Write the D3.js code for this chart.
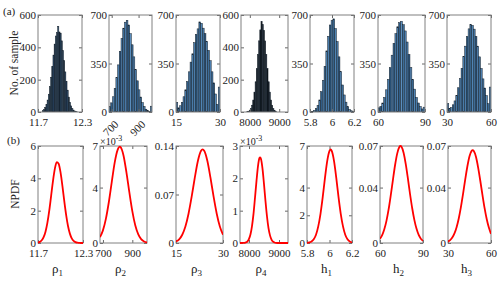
<!DOCTYPE html>
<html lang="en">
<head>
<meta charset="UTF-8" />
<title>Sample histograms and NPDF</title>
<script src="https://cdn.jsdelivr.net/npm/d3@7"></script>
<style>
  body { margin: 0; background: #fff; }
  svg text { font-family: "Liberation Serif", "Times New Roman", serif; }
</style>
</head>
<body>
<svg id="chart" width="500" height="283"></svg>
<script>
// parameter names (symbol + subscript)
var symbols = ["ρ", "ρ", "ρ", "ρ", "h", "h", "h"];
var subs = ["1", "2", "3", "4", "1", "2", "3"];

var xDomains = [[11.7, 12.3], [680, 1000], [15, 30], [7700, 9300], [5.8, 6.2], [60, 90], [30, 60]];
var xTicks = [[11.7, 12.3], [700, 900], [15, 30], [8000, 9000], [5.8, 6, 6.2], [60, 90], [30, 60]];

// histogram (a)
var countMax = [600, 700, 700, 600, 700, 700, 700];
var countTicks = [[0, 200, 400, 600], [0, 350, 700], [0, 350, 700], [0, 200, 400, 600], [0, 350, 700], [0, 350, 700], [0, 350, 700]];
var binStart = [11.76, 680, 15, 7900, 5.8, 60, 30];
var binWidth = [0.016, 12.8, 0.6, 40, 0.016, 1.2, 1.2];

var rho1Counts = [8, 15, 28, 46, 74, 110, 158, 215, 282, 352, 420, 470, 492, 530, 495, 488, 440, 380, 318, 248, 190, 135, 92, 60, 38, 22, 12, 6, 3, 1];
var rho2Counts = [38, 66, 110, 170, 248, 340, 438, 530, 605, 648, 662, 628, 565, 485, 398, 305, 225, 160, 108, 68, 40, 20, 10, 5, 42];
var rho3Counts = [70, 30, 45, 70, 110, 160, 220, 290, 360, 420, 500, 560, 600, 650, 640, 605, 565, 510, 445, 370, 290, 210, 130, 55, 180];
var rho4Counts = [2, 5, 11, 22, 42, 74, 123, 187, 268, 356, 440, 508, 560, 540, 505, 440, 356, 268, 187, 123, 74, 42, 22, 11, 5];
var h1Counts = [2, 5, 12, 25, 48, 87, 147, 228, 330, 441, 546, 628, 660, 672, 602, 508, 398, 291, 195, 123, 71, 38, 19, 9, 4];
var h2Counts = [30, 40, 65, 105, 160, 235, 320, 410, 495, 565, 615, 645, 655, 630, 585, 505, 415, 320, 235, 165, 105, 65, 40, 22, 35];
var h3Counts = [60, 25, 32, 52, 80, 120, 175, 240, 315, 400, 475, 545, 600, 630, 625, 598, 545, 475, 398, 314, 239, 173, 118, 60, 180];

// NPDF (b)
var pdfMax = [6, 7, 0.14, 3, 7, 0.07, 0.07];
var pdfTicks = [[0, 2, 4, 6], [0, 4, 7], [0, 0.07, 0.14], [0, 1, 2, 3], [0, 2, 4, 7], [0, 0.04, 0.07], [0, 0.04, 0.07]];
var pdfExponent = ["", "-3", "", "-3", "", "", ""];

var rho1Pdf = [[11.70, 0.03], [11.725, 0.07], [11.75, 0.17], [11.775, 0.36], [11.80, 0.70], [11.825, 1.24], [11.85, 2.0], [11.875, 2.92], [11.90, 3.85], [11.925, 4.6], [11.95, 5.0], [11.975, 4.9], [12.0, 4.38], [12.025, 3.55], [12.05, 2.6], [12.075, 1.74], [12.10, 1.05], [12.125, 0.58], [12.15, 0.29], [12.175, 0.13], [12.20, 0.055], [12.225, 0.02], [12.25, 0.01], [12.275, 0], [12.30, 0]];
var rho2Pdf = [[680, 0.42], [700, 0.91], [720, 1.74], [740, 2.94], [760, 4.39], [780, 5.8], [800, 6.72], [815, 6.95], [820, 6.92], [840, 6.32], [860, 5.1], [880, 3.65], [900, 2.3], [920, 1.28], [940, 0.64], [960, 0.28], [980, 0.11], [1000, 0.04]];
var rho3Pdf = [[15, 0.0021], [16, 0.0053], [17, 0.0119], [18, 0.0237], [19, 0.0423], [20, 0.0668], [21, 0.0943], [22, 0.1187], [23, 0.1331], [23.5, 0.135], [24, 0.1331], [25, 0.1187], [26, 0.0943], [27, 0.0668], [28, 0.0423], [29, 0.0237], [30, 0.0119]];
var rho4Pdf = [[7700, 0], [7800, 0.002], [7850, 0.006], [7900, 0.02], [7950, 0.052], [8000, 0.126], [8050, 0.27], [8100, 0.525], [8150, 0.9], [8200, 1.4], [8250, 1.92], [8300, 2.38], [8350, 2.63], [8370, 2.65], [8400, 2.6], [8450, 2.3], [8500, 1.82], [8550, 1.29], [8600, 0.82], [8650, 0.46], [8700, 0.236], [8750, 0.107], [8800, 0.043], [8850, 0.016], [8900, 0.005], [9000, 0], [9300, 0]];
var h1Pdf = [[5.80, 0.012], [5.82, 0.038], [5.84, 0.107], [5.86, 0.27], [5.88, 0.6], [5.90, 1.2], [5.92, 2.11], [5.94, 3.33], [5.96, 4.72], [5.98, 5.93], [6.00, 6.65], [6.01, 6.75], [6.02, 6.65], [6.04, 5.93], [6.06, 4.72], [6.08, 3.33], [6.10, 2.11], [6.12, 1.2], [6.14, 0.6], [6.16, 0.27], [6.18, 0.107], [6.20, 0.038]];
var h2Pdf = [[60, 0.003], [61.5, 0.0056], [63, 0.0099], [64.5, 0.016], [66, 0.0242], [67.5, 0.0344], [69, 0.0454], [70.5, 0.0561], [72, 0.0645], [73.5, 0.0693], [74.3, 0.07], [75, 0.0695], [76.5, 0.065], [78, 0.0567], [79.5, 0.0462], [81, 0.035], [82.5, 0.0249], [84, 0.0165], [85.5, 0.0102], [87, 0.0058], [88.5, 0.0031], [90, 0.0016]];
var h3Pdf = [[30, 0.001], [31.5, 0.0021], [33, 0.0039], [34.5, 0.0069], [36, 0.0114], [37.5, 0.0177], [39, 0.0259], [40.5, 0.0355], [42, 0.0457], [43.5, 0.0552], [45, 0.0626], [46.5, 0.0665], [47.2, 0.067], [48, 0.0664], [49.5, 0.0622], [51, 0.0546], [52.5, 0.0451], [54, 0.0349], [55.5, 0.0253], [57, 0.0173], [58.5, 0.0111], [60, 0.0066]];

var counts = [rho1Counts, rho2Counts, rho3Counts, rho4Counts, h1Counts, h2Counts, h3Counts];
var pdfs = [rho1Pdf, rho2Pdf, rho3Pdf, rho4Pdf, h1Pdf, h2Pdf, h3Pdf];

// layout
var topX = [[38, 82], [109, 152], [176, 220], [241, 288], [310, 354], [378, 425], [447, 491]];
var botX = [[38, 83], [100, 147], [176, 223], [240, 288], [307, 352], [380, 423], [448, 491]];
var topY = [15, 112];
var botY = [146, 243];

var blues = ["#4a7cab", "#2f5c86", "#5a8dbd", "#3c6c98", "#4f84b5"];
var darks = ["#243f5a", "#31506f", "#18293a", "#2a4865"];
var blacks = ["#141a21", "#222c37", "#0b1015"];
var palettes = [darks, blues, blues, blacks, blues, blues, blues];

var svg = d3.select("#chart");
var defs = svg.append("defs");

function frame(xs, ys, xt, yt, rotateX) {
  var x0 = xs.range()[0], x1 = xs.range()[1];
  var yb = ys.range()[0], yt0 = ys.range()[1];

  var gl = svg.append("g").attr("transform", "translate(" + x0 + ",0)")
    .call(d3.axisLeft(ys).tickValues(yt).tickSize(-3).tickPadding(2).tickFormat(function(d) { return String(d); }));
  var gr = svg.append("g").attr("transform", "translate(" + x1 + ",0)")
    .call(d3.axisRight(ys).tickValues(yt).tickSize(-3).tickFormat(""));
  var gb = svg.append("g").attr("transform", "translate(0," + yb + ")")
    .call(d3.axisBottom(xs).tickValues(xt).tickSize(-3).tickPadding(6).tickFormat(function(d) { return String(d); }));
  var gt = svg.append("g").attr("transform", "translate(0," + yt0 + ")")
    .call(d3.axisTop(xs).tickValues(xt).tickSize(-3).tickFormat(""));

  [gl, gr, gb, gt].forEach(function(a) {
    a.select(".domain").remove();
    a.attr("font-family", "Liberation Serif, serif").attr("font-size", 11);
    a.selectAll("line").attr("stroke", "#666");
    a.selectAll("text").attr("fill", "#222");
  });

  if (rotateX) {
    gb.selectAll("text")
      .attr("y", 0).attr("dy", 0)
      .attr("text-anchor", "end")
      .attr("transform", "translate(7,13) rotate(-45)");
  }

  svg.append("rect")
    .attr("x", x0).attr("y", yt0)
    .attr("width", x1 - x0).attr("height", yb - yt0)
    .attr("fill", "none").attr("stroke", "#808080").attr("stroke-width", 1);
}

for (var i = 0; i < 7; i++) {
  // --- top: histogram
  var xs = d3.scaleLinear().domain(xDomains[i]).range(topX[i]);
  var ys = d3.scaleLinear().domain([0, countMax[i]]).range([topY[1], topY[0]]);

  defs.append("clipPath").attr("id", "ct" + i).append("rect")
    .attr("x", topX[i][0]).attr("y", topY[0])
    .attr("width", topX[i][1] - topX[i][0]).attr("height", topY[1] - topY[0]);

  (function(i, xs, ys) {
    svg.append("g").attr("clip-path", "url(#ct" + i + ")")
      .selectAll("rect").data(counts[i]).enter().append("rect")
      .attr("x", function(d, j) { return xs(binStart[i] + j * binWidth[i]); })
      .attr("width", function(d, j) { return xs(binStart[i] + (j + 1) * binWidth[i]) - xs(binStart[i] + j * binWidth[i]); })
      .attr("y", function(d) { return ys(d); })
      .attr("height", function(d) { return ys(0) - ys(d); })
      .attr("fill", function(d, j) { return palettes[i][j % palettes[i].length]; })
      .attr("stroke", "#15202b")
      .attr("stroke-width", 0.5);
  })(i, xs, ys);

  frame(xs, ys, xTicks[i], countTicks[i], i === 1);

  // --- bottom: NPDF
  var xb = d3.scaleLinear().domain(xDomains[i]).range(botX[i]);
  var yb = d3.scaleLinear().domain([0, pdfMax[i]]).range([botY[1], botY[0]]);

  defs.append("clipPath").attr("id", "cb" + i).append("rect")
    .attr("x", botX[i][0]).attr("y", botY[0] - 2)
    .attr("width", botX[i][1] - botX[i][0]).attr("height", botY[1] - botY[0] + 3);

  var line = d3.line()
    .x(function(d) { return xb(d[0]); })
    .y(function(d) { return yb(d[1]); })
    .curve(d3.curveMonotoneX);

  frame(xb, yb, xTicks[i], pdfTicks[i], false);

  svg.append("path")
    .datum(pdfs[i])
    .attr("clip-path", "url(#cb" + i + ")")
    .attr("d", line)
    .attr("fill", "none")
    .attr("stroke", "#ff0000")
    .attr("stroke-width", 1.8);

  if (pdfExponent[i]) {
    var ex = svg.append("text")
      .attr("x", botX[i][0]).attr("y", botY[0] - 1)
      .attr("font-size", 10).attr("fill", "#222")
      .text("×10");
    ex.append("tspan").attr("dy", -4).attr("font-size", 8).text(pdfExponent[i]);
  }

  // parameter label
  var lab = svg.append("text")
    .attr("x", (botX[i][0] + botX[i][1]) / 2 - 3)
    .attr("y", 273)
    .attr("text-anchor", "middle")
    .attr("font-size", 13).attr("fill", "#222")
    .text(symbols[i]);
  lab.append("tspan").attr("dy", 3).attr("font-size", 9).text(subs[i]);
}

// panel tags and y titles
svg.append("text").attr("x", 3).attr("y", 15).attr("font-size", 11).attr("fill", "#222").text("(a)");
svg.append("text").attr("x", 7).attr("y", 144).attr("font-size", 11).attr("fill", "#222").text("(b)");

svg.append("text")
  .attr("transform", "translate(18,63) rotate(-90)")
  .attr("text-anchor", "middle").attr("font-size", 11.5).attr("fill", "#222")
  .text("No. of sample");
svg.append("text")
  .attr("transform", "translate(19,194) rotate(-90)")
  .attr("text-anchor", "middle").attr("font-size", 11.5).attr("fill", "#222")
  .text("NPDF");
</script>
</body>
</html>
